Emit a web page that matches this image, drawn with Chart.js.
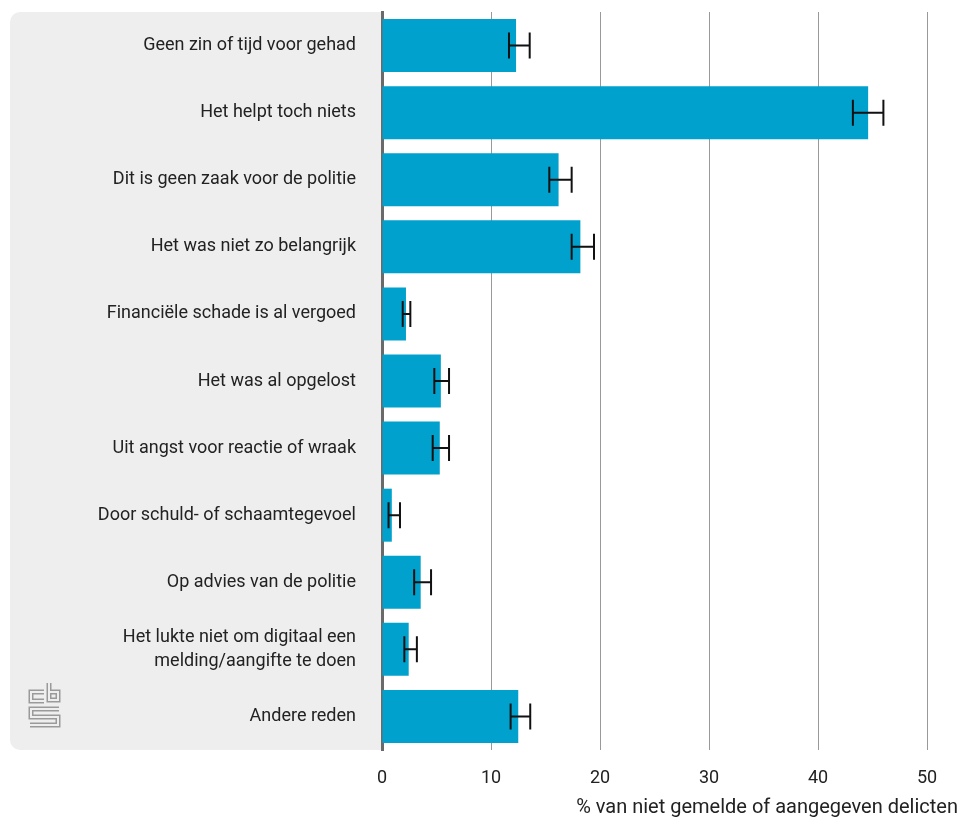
<!DOCTYPE html>
<html>
<head>
<meta charset="utf-8">
<script src="https://cdn.jsdelivr.net/npm/chart.js@4"></script>
<style>
  html, body { margin: 0; padding: 0; background: #fff; }
  #wrap { width: 961px; height: 821px; position: relative; }
</style>
</head>
<body>
<div id="wrap"><canvas id="chart"></canvas></div>
<script>
const labels = [
  "Geen zin of tijd voor gehad",
  "Het helpt toch niets",
  "Dit is geen zaak voor de politie",
  "Het was niet zo belangrijk",
  "Financiële schade is al vergoed",
  "Het was al opgelost",
  "Uit angst voor reactie of wraak",
  "Door schuld- of schaamtegevoel",
  "Op advies van de politie",
  ["Het lukte niet om digitaal een", "melding/aangifte te doen"],
  "Andere reden"
];
const values = [12.3, 44.6, 16.2, 18.2, 2.2, 5.4, 5.3, 0.9, 3.55, 2.45, 12.5];
const lower = [11.65, 43.2, 15.35, 17.4, 1.9, 4.8, 4.65, 0.6, 2.95, 2.05, 11.8];
const upper = [13.55, 46.0, 17.4, 19.45, 2.6, 6.15, 6.15, 1.65, 4.5, 3.2, 13.6];
const xTicks = [0, 10, 20, 30, 40, 50];
const axisTitle = "% van niet gemelde of aangegeven delicten";

const fontFamily = "Roboto, 'Noto Sans', sans-serif";
const textColor = "#222";

// grey panel behind the category labels + cbs logo
const panelPlugin = {
  id: "panel",
  beforeDraw(chart) {
    const { ctx, chartArea } = chart;
    const x0 = 10, y0 = chartArea.top, x1 = chartArea.left, y1 = chartArea.bottom, r = 10;
    ctx.save();
    ctx.fillStyle = "#eeeeee";
    ctx.beginPath();
    ctx.moveTo(x1, y0);
    ctx.lineTo(x0 + r, y0);
    ctx.arcTo(x0, y0, x0, y0 + r, r);
    ctx.lineTo(x0, y1 - r);
    ctx.arcTo(x0, y1, x0 + r, y1, r);
    ctx.lineTo(x1, y1);
    ctx.closePath();
    ctx.fill();

    // logo: thick grey strokes hollowed out with the panel colour
    const paths = [
      [[44, 692], [31, 692], [31, 701], [44, 701]],
      [[49, 683], [49, 700], [58, 700], [58, 692], [49, 692]],
      [[59, 709], [31, 709], [31, 717], [58, 717], [58, 725], [30, 725]]
    ];
    ctx.lineJoin = "miter";
    ctx.lineCap = "butt";
    [[5, "#9a9a9a"], [2, "#eeeeee"]].forEach(([w, c]) => {
      ctx.lineWidth = w;
      ctx.strokeStyle = c;
      paths.forEach(p => {
        ctx.beginPath();
        p.forEach(([x, y], i) => (i ? ctx.lineTo(x, y) : ctx.moveTo(x, y)));
        ctx.stroke();
      });
    });
    ctx.restore();
  }
};

// error bars and axis title
const errorBarPlugin = {
  id: "errorBars",
  afterDatasetsDraw(chart) {
    const { ctx } = chart;
    const xs = chart.scales.x;
    const meta = chart.getDatasetMeta(0);
    ctx.save();
    ctx.strokeStyle = "#111";
    ctx.lineWidth = 2;
    meta.data.forEach((bar, i) => {
      const y = bar.y;
      const a = xs.getPixelForValue(lower[i]);
      const b = xs.getPixelForValue(upper[i]);
      ctx.beginPath();
      ctx.moveTo(a, y); ctx.lineTo(b, y);
      ctx.moveTo(a, y - 13); ctx.lineTo(a, y + 13);
      ctx.moveTo(b, y - 13); ctx.lineTo(b, y + 13);
      ctx.stroke();
    });
    ctx.restore();
  },
  afterDraw(chart) {
    const { ctx } = chart;
    ctx.save();
    ctx.font = "20px " + fontFamily;
    ctx.fillStyle = textColor;
    ctx.textAlign = "right";
    ctx.textBaseline = "middle";
    ctx.fillText(axisTitle, 958, 808);
    ctx.restore();
  }
};

new Chart(document.getElementById("chart"), {
  type: "bar",
  data: {
    labels: labels,
    datasets: [{
      data: values,
      backgroundColor: "#00a1cd",
      barPercentage: 0.79,
      categoryPercentage: 1
    }]
  },
  options: {
    indexAxis: "y",
    responsive: true,
    maintainAspectRatio: false,
    animation: false,
    layout: { padding: { top: 12, right: 34, left: 0, bottom: 0 } },
    plugins: { legend: { display: false }, tooltip: { enabled: false } },
    scales: {
      x: {
        min: 0,
        max: 50,
        afterBuildTicks(scale) { scale.ticks = xTicks.map(v => ({ value: v })); },
        afterFit(scale) { scale.height = 71; scale.paddingLeft = 0; scale.paddingRight = 0; },
        grid: { color: "#999999", lineWidth: 1, drawTicks: false },
        border: { display: false },
        ticks: { color: textColor, font: { family: fontFamily, size: 18 }, padding: 18 }
      },
      y: {
        afterFit(scale) { scale.width = 382; scale.paddingTop = 0; scale.paddingBottom = 0; },
        grid: { display: false, drawTicks: false },
        border: { display: true, color: "#6a6a6a", width: 3 },
        ticks: { color: textColor, font: { family: fontFamily, size: 18, lineHeight: 1.33 }, padding: 26 }
      }
    }
  },
  plugins: [panelPlugin, errorBarPlugin]
});
</script>
</body>
</html>
